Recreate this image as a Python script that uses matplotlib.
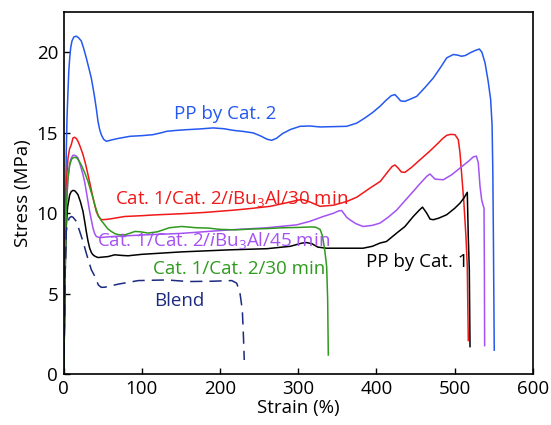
import matplotlib
matplotlib.use("Agg")
import matplotlib.pyplot as plt

plt.rcParams["font.family"] = ["Open Sans", "DejaVu Sans"]
plt.rcParams["mathtext.fontset"] = "custom"
plt.rcParams["mathtext.rm"] = "Open Sans"
plt.rcParams["mathtext.it"] = "Open Sans:italic"

# Stress-strain curves: strain (%) and stress (MPa)
cat2_strain = [0, 1.5, 2.5, 3.3, 4.3, 5.5, 6.5, 7.7, 9, 10.6, 13, 16.1, 19, 22.5, 25.5, 28.9, 32,
               35.3, 37.5, 39.7, 42, 43.9, 46, 48.1, 51, 54.5, 60.9, 70, 85, 100, 114, 125, 131.7,
               145, 157, 175, 191, 205, 217, 230, 242.5, 252, 260, 266, 272, 280, 290, 302.3,
               315, 327.9, 345, 362, 375, 385.4, 395, 404.6, 412, 419, 423.8, 428, 431, 436.6,
               444, 451.6, 462, 472.8, 482, 490, 498.4, 504, 509, 514, 519.8, 526, 531.8, 535,
               539, 543, 546.2, 548, 549, 549.8, 550.4, 550.8]
cat2_stress = [0, 6, 11, 13.85, 16, 17.6, 18.8, 19.65, 20.3, 20.7, 20.95, 21.0, 20.9, 20.7, 20.25,
               19.65, 19.05, 18.4, 17.8, 17.16, 16.4, 15.7, 15.2, 14.88, 14.6, 14.47, 14.55,
               14.65, 14.78, 14.82, 14.88, 15.0, 15.09, 15.15, 15.19, 15.24, 15.3, 15.25, 15.15,
               15.08, 14.99, 14.8, 14.6, 14.53, 14.65, 14.95, 15.2, 15.4, 15.42, 15.36, 15.38,
               15.4, 15.6, 15.92, 16.25, 16.64, 17.0, 17.3, 17.37, 17.15, 16.98, 16.95, 17.1,
               17.26, 17.8, 18.4, 19.05, 19.65, 19.86, 19.82, 19.75, 19.8, 19.96, 20.1, 20.2,
               20.0, 19.34, 18.2, 17.06, 15.5, 12.5, 8.0, 4.0, 1.5]

tri30_strain = [0, 1, 2, 3.3, 4.3, 5.5, 7.5, 9.7, 11.9, 14, 16, 18.3, 21, 24.7, 28, 31.1, 34.5,
                37.5, 41.7, 44.5, 48.1, 55, 60.9, 78, 100, 117, 150, 180, 219, 240, 264, 285,
                300, 306, 315, 328, 345, 362, 375, 392, 405, 415, 420, 423.8, 428, 432, 436.6,
                445, 456, 467, 477, 485, 490, 495, 500.6, 504.8, 507, 509, 512, 514.6, 516.3,
                517.6]
tri30_stress = [0, 4, 8.5, 11.36, 12.6, 13.43, 14.0, 14.26, 14.68, 14.72, 14.65, 14.47, 14.15,
                13.64, 13.05, 12.39, 11.65, 10.95, 10.11, 9.8, 9.6, 9.62, 9.66, 9.8, 9.85, 9.9,
                9.97, 10.05, 10.2, 10.3, 10.43, 10.65, 10.82, 10.85, 10.7, 10.43, 10.5, 10.73,
                11.0, 11.57, 11.98, 12.6, 12.9, 13.0, 12.8, 12.56, 12.54, 12.85, 13.33, 13.8,
                14.26, 14.65, 14.84, 14.9, 14.88, 14.57, 13.74, 12.5, 10.63, 8.56, 6.7, 2.1]

tri45_strain = [0, 1, 2, 3.5, 5, 6.4, 8, 9.7, 11.9, 14, 16, 18.3, 21.5, 24.7, 27, 28.9, 31, 33.2,
                35.5, 37.5, 39.5, 41.7, 45, 48.6, 60, 100, 150, 213, 260, 298, 315, 332, 345,
                352, 355.6, 359, 362, 366, 374, 383, 395, 404.6, 415, 426, 436, 447.2, 456,
                464.4, 468.6, 475, 485.6, 496.3, 507, 517.6, 524, 528, 530.4, 532.6, 534.7,
                536.5, 537.7, 538.2, 538.5]
tri45_stress = [0, 4, 8, 10.5, 11.9, 12.6, 13.15, 13.43, 13.6, 13.6, 13.55, 13.43, 12.95, 12.39,
                11.9, 11.36, 10.75, 10.11, 9.55, 9.08, 8.75, 8.56, 8.5, 8.5, 8.55, 8.65, 8.75,
                8.97, 9.1, 9.28, 9.5, 9.8, 10.0, 10.15, 10.17, 9.95, 9.75, 9.6, 9.35, 9.18, 9.25,
                9.39, 9.75, 10.2, 10.75, 11.36, 11.85, 12.29, 12.44, 12.12, 12.08, 12.39, 12.81,
                13.22, 13.5, 13.55, 13.12, 11.67, 10.84, 10.5, 10.32, 6.5, 1.78]

cat1_strain = [0, 1, 2, 3.3, 5, 7.7, 9.7, 11.9, 14, 16, 18.3, 21.5, 24.7, 27, 28.9, 31, 33.2,
               35.5, 37.5, 40, 43.9, 50, 56.7, 65.2, 75, 82.3, 100, 150, 213, 260, 290, 305,
               310.9, 318, 325, 336, 383, 395, 404.6, 413, 426, 436.6, 447.2, 455, 459, 464.4,
               468.6, 472.8, 480, 490, 500, 507, 512, 516.3, 517.6, 518.9, 519.8]
cat1_stress = [0, 3, 6.5, 9.2, 10.4, 11.15, 11.35, 11.42, 11.4, 11.3, 11.15, 10.7, 10.11, 9.45,
               8.87, 8.3, 7.84, 7.55, 7.42, 7.33, 7.25, 7.28, 7.31, 7.42, 7.38, 7.36, 7.45, 7.6,
               7.73, 7.8, 7.95, 8.15, 8.18, 8.1, 7.9, 7.83, 7.83, 7.95, 8.15, 8.25, 8.77, 9.18,
               9.8, 10.2, 10.38, 10.01, 9.64, 9.6, 9.7, 9.91, 10.3, 10.63, 10.95, 11.3, 8.5, 6.5,
               1.72]

bin30_strain = [0, 1, 2, 3.5, 5.5, 7.7, 10, 12, 14, 16.6, 19.5, 22.5, 27, 31.1, 34, 37.5, 40.5,
                43.9, 48, 52.5, 56, 60.9, 66, 71.6, 78.4, 84, 91, 98, 108, 120, 135, 151, 170,
                185, 200, 219, 240, 260, 280, 300, 315, 322, 328, 331, 334, 336.4, 337.7, 338.5]
bin30_stress = [0, 3, 7, 10.5, 12.2, 13.0, 13.35, 13.45, 13.47, 13.45, 13.25, 13.0, 12.5, 11.98,
                11.5, 10.95, 10.4, 9.9, 9.55, 9.28, 9.05, 8.87, 8.72, 8.66, 8.66, 8.75, 8.87,
                8.85, 8.77, 8.85, 9.1, 9.18, 9.1, 9.08, 9.0, 8.97, 9.02, 9.05, 9.1, 9.12, 9.15,
                9.14, 9.0, 8.6, 7.7, 6.69, 4.62, 1.2]

blend_strain = [0, 1, 2, 3.3, 5, 7, 9.7, 12, 16.1, 20.5, 24.7, 28.9, 31.5, 35.3, 40, 44.3, 48,
                52.8, 70, 95.5, 131.8, 159.4, 190, 215, 221.3, 225.5, 228.5, 229.8, 231]
blend_stress = [0, 3, 6.5, 8.87, 9.4, 9.7, 9.8, 9.75, 9.5, 8.87, 8.25, 7.52, 7.1, 6.5, 6.07,
                5.55, 5.4, 5.41, 5.6, 5.82, 5.86, 5.76, 5.78, 5.82, 5.66, 5.04, 4.0, 2.55, 0.89]

x_ticks = [0, 100, 200, 300, 400, 500, 600]
y_ticks = [0, 5, 10, 15, 20]

fig = plt.figure(figsize=(5.51, 4.25), dpi=100)
ax = fig.add_axes([0.1156, 0.1193, 0.8512, 0.8525])

lw = 1.1
ax.plot(cat2_strain, cat2_stress, color="#2458f0", lw=lw)
ax.plot(tri30_strain, tri30_stress, color="#f01818", lw=lw)
ax.plot(tri45_strain, tri45_stress, color="#a452f2", lw=lw)
ax.plot(cat1_strain, cat1_stress, color="#000000", lw=lw)
ax.plot(bin30_strain, bin30_stress, color="#2f9a1e", lw=lw)
ax.plot(blend_strain, blend_stress, color="#1c2a80", lw=lw, dashes=(8, 4.6))

fs = 13.5
ax.text(206, 15.86, "PP by Cat. 2", color="#2458f0", fontsize=fs, ha="center", va="baseline")
ax.text(65.6, 10.59, r"Cat. 1/Cat. 2/$\mathit{i}$Bu$_3$Al/30 min", color="#f01818",
        fontsize=fs, ha="left", va="baseline")
ax.text(42.6, 7.94, r"Cat. 1/Cat. 2/$\mathit{i}$Bu$_3$Al/45 min", color="#a452f2",
        fontsize=fs, ha="left", va="baseline")
ax.text(114, 6.24, "Cat. 1/Cat. 2/30 min", color="#2f9a1e", fontsize=fs, ha="left",
        va="baseline")
ax.text(115.6, 4.25, "Blend", color="#1c2a80", fontsize=fs, ha="left", va="baseline")
ax.text(386.7, 6.69, "PP by Cat. 1", color="#000000", fontsize=fs, ha="left", va="baseline")

ax.set_xlim(0, 600)
ax.set_ylim(0, 22.5)
ax.set_xticks(x_ticks)
ax.set_yticks(y_ticks)
ax.tick_params(direction="in", length=4.5, width=1, labelsize=13.5, pad=4,
               top=False, right=False)
for s in ax.spines.values():
    s.set_linewidth(1.2)
ax.set_xlabel("Strain (%)", fontsize=13.5, labelpad=1)
ax.set_ylabel("Stress (MPa)", fontsize=13.5, labelpad=3)

fig.savefig("out.png", dpi=100)
